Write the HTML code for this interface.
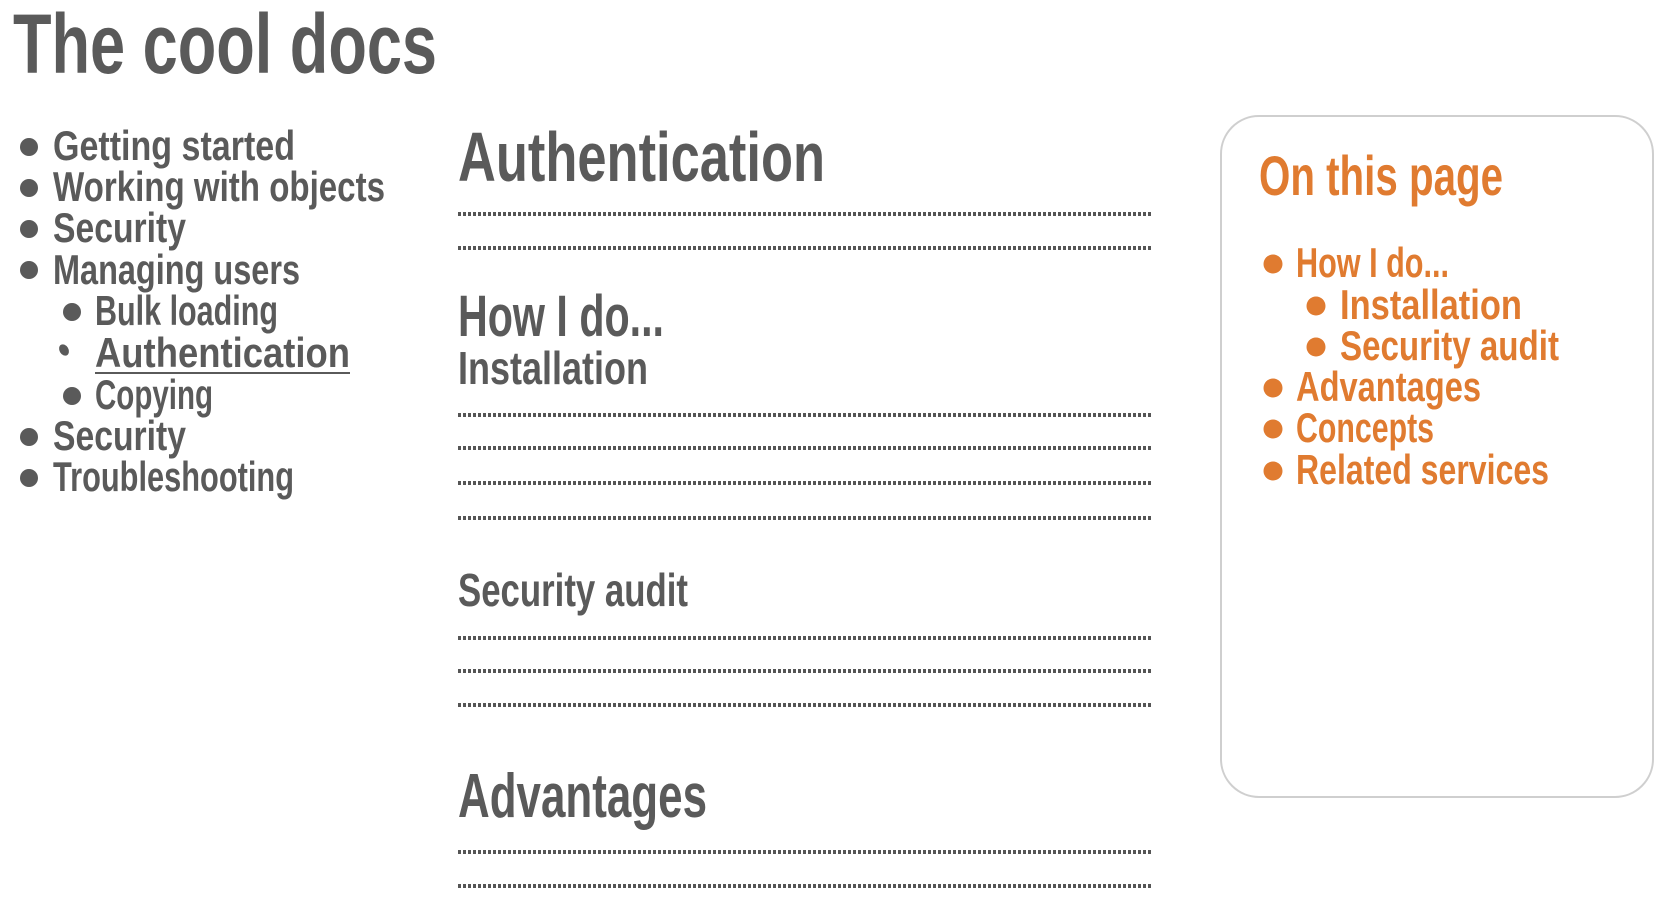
<!DOCTYPE html>
<html><head><meta charset="utf-8"><style>
html,body{margin:0;padding:0;background:#fff;width:1670px;height:908px;overflow:hidden}
svg text{font-family:"Liberation Sans Narrow","Liberation Sans",sans-serif;font-weight:bold}
</style></head><body>
<svg width="1670" height="908" viewBox="0 0 1670 908" xmlns="http://www.w3.org/2000/svg">
<g fill="#5a5a5a">
<text x="13" y="73" font-size="84" textLength="424" lengthAdjust="spacingAndGlyphs">The cool docs</text>
<g font-size="42">
<circle cx="29" cy="147" r="9"/><text x="53" y="160" textLength="242" lengthAdjust="spacingAndGlyphs">Getting started</text>
<circle cx="29" cy="188" r="9"/><text x="53" y="201" textLength="332" lengthAdjust="spacingAndGlyphs">Working with objects</text>
<circle cx="29" cy="229" r="9"/><text x="53" y="242" textLength="133" lengthAdjust="spacingAndGlyphs">Security</text>
<circle cx="29" cy="270" r="9"/><text x="53" y="284" textLength="247" lengthAdjust="spacingAndGlyphs">Managing users</text>
<circle cx="72" cy="312" r="9"/><text x="95" y="325" textLength="183" lengthAdjust="spacingAndGlyphs">Bulk loading</text>
<ellipse cx="64" cy="350" rx="4.5" ry="6" transform="rotate(-30 64 350)"/><text x="95" y="367" textLength="255" lengthAdjust="spacingAndGlyphs">Authentication</text>
<rect x="95" y="372" width="255" height="2"/>
<circle cx="72" cy="396" r="9"/><text x="95" y="409" textLength="118" lengthAdjust="spacingAndGlyphs">Copying</text>
<circle cx="29" cy="437" r="9"/><text x="53" y="450" textLength="133" lengthAdjust="spacingAndGlyphs">Security</text>
<circle cx="29" cy="478" r="9"/><text x="53" y="491" textLength="241" lengthAdjust="spacingAndGlyphs">Troubleshooting</text>
</g>
<text x="458" y="181" font-size="70" textLength="367" lengthAdjust="spacingAndGlyphs">Authentication</text>
<text x="458" y="336" font-size="58" textLength="206" lengthAdjust="spacingAndGlyphs">How I do...</text>
<text x="458" y="384" font-size="46" textLength="190" lengthAdjust="spacingAndGlyphs">Installation</text>
<text x="458" y="606" font-size="46" textLength="230" lengthAdjust="spacingAndGlyphs">Security audit</text>
<text x="458" y="817" font-size="62" textLength="249" lengthAdjust="spacingAndGlyphs">Advantages</text>
</g>
<g stroke="#555" stroke-width="4" stroke-dasharray="3 2">
<line x1="458" y1="214" x2="1151" y2="214"/>
<line x1="458" y1="248" x2="1151" y2="248"/>
<line x1="458" y1="415" x2="1151" y2="415"/>
<line x1="458" y1="448" x2="1151" y2="448"/>
<line x1="458" y1="483" x2="1151" y2="483"/>
<line x1="458" y1="518" x2="1151" y2="518"/>
<line x1="458" y1="638" x2="1151" y2="638"/>
<line x1="458" y1="671" x2="1151" y2="671"/>
<line x1="458" y1="705" x2="1151" y2="705"/>
<line x1="458" y1="852" x2="1151" y2="852"/>
<line x1="458" y1="886" x2="1151" y2="886"/>
</g>
<rect x="1221" y="116" width="432" height="681" rx="38" fill="none" stroke="#cfcfcf" stroke-width="2"/>
<g fill="#e07b30">
<text x="1259" y="195" font-size="56" textLength="244" lengthAdjust="spacingAndGlyphs">On this page</text>
<g font-size="42">
<circle cx="1273" cy="264" r="9.5"/><text x="1296" y="277" textLength="153" lengthAdjust="spacingAndGlyphs">How I do...</text>
<circle cx="1316" cy="306" r="9.5"/><text x="1340" y="319" textLength="182" lengthAdjust="spacingAndGlyphs">Installation</text>
<circle cx="1316" cy="347" r="9.5"/><text x="1340" y="360" textLength="219" lengthAdjust="spacingAndGlyphs">Security audit</text>
<circle cx="1273" cy="388" r="9.5"/><text x="1296" y="401" textLength="185" lengthAdjust="spacingAndGlyphs">Advantages</text>
<circle cx="1273" cy="429" r="9.5"/><text x="1296" y="442" textLength="138" lengthAdjust="spacingAndGlyphs">Concepts</text>
<circle cx="1273" cy="471" r="9.5"/><text x="1296" y="484" textLength="253" lengthAdjust="spacingAndGlyphs">Related services</text>
</g>
</g>
</svg>
</body></html>
